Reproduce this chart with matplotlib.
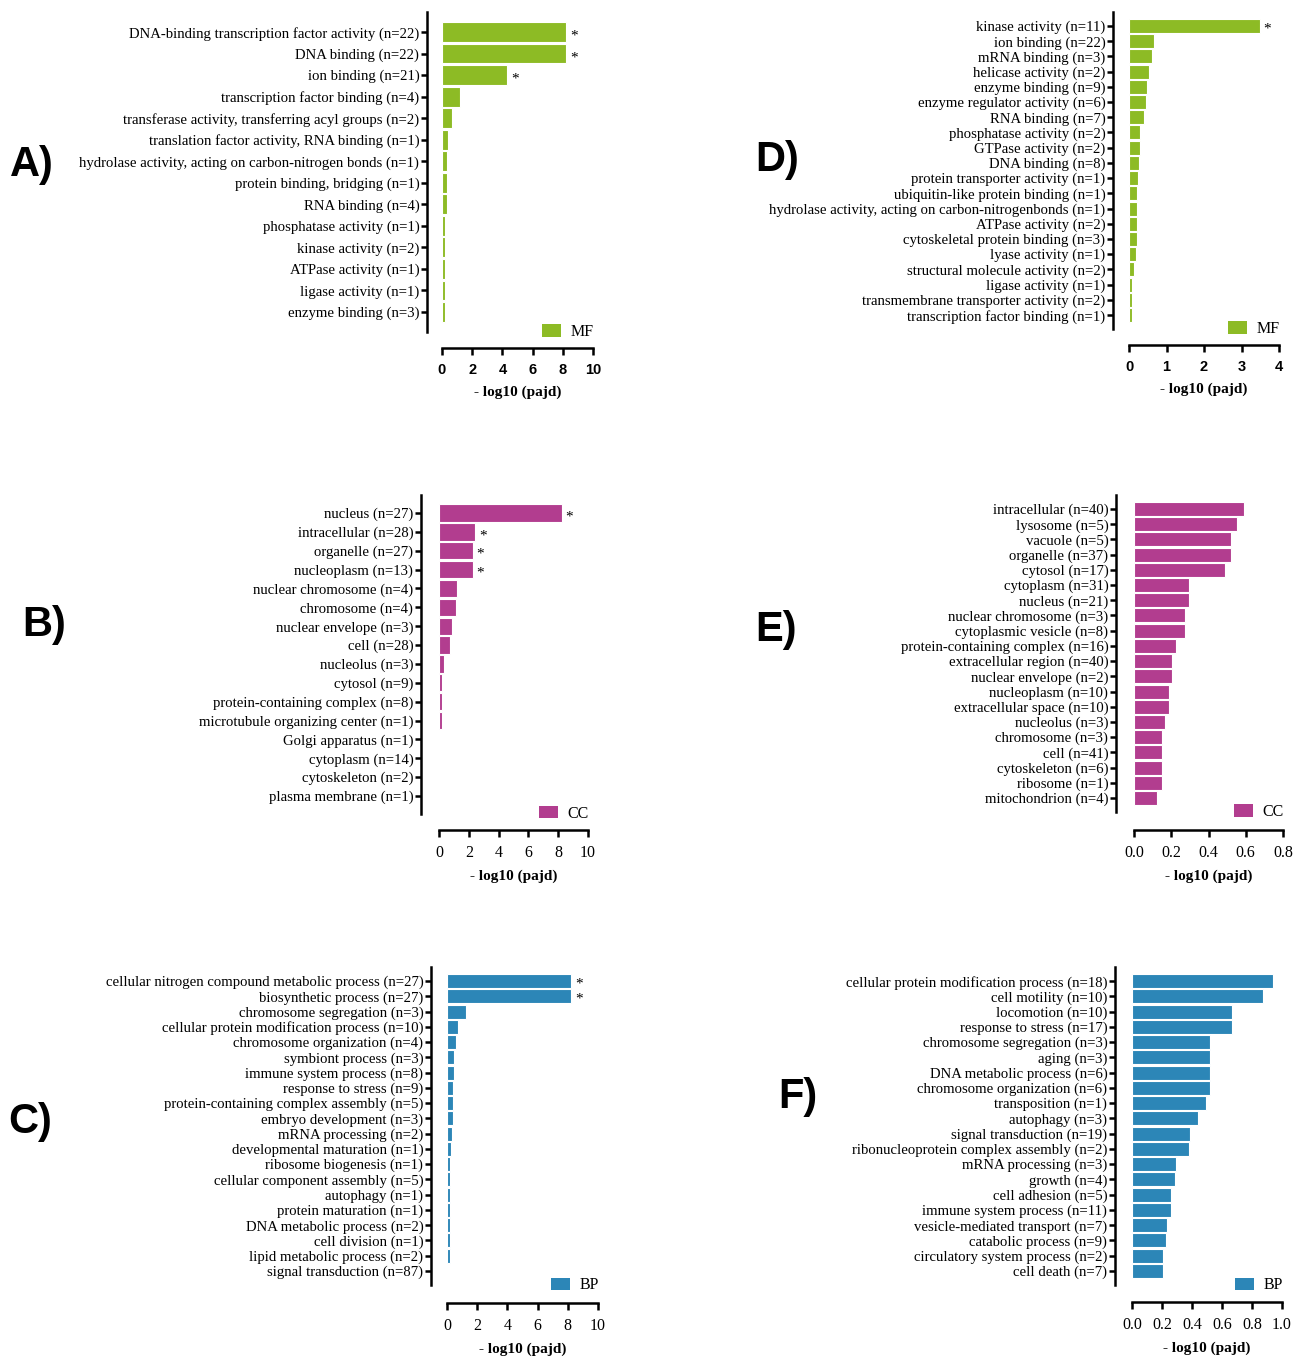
"""Six-panel GO enrichment bar charts (MF, CC, BP) recreated with matplotlib."""

import matplotlib

matplotlib.use("Agg")

import matplotlib.pyplot as plt
from matplotlib.patches import Patch


# ---- data -----------------------------------------------------------------
a_terms = [
    "DNA-binding transcription factor activity (n=22)",
    "DNA binding (n=22)",
    "ion binding (n=21)",
    "transcription factor binding (n=4)",
    "transferase activity, transferring acyl groups (n=2)",
    "translation factor activity, RNA binding (n=1)",
    "hydrolase activity, acting on carbon-nitrogen bonds (n=1)",
    "protein binding, bridging (n=1)",
    "RNA binding (n=4)",
    "phosphatase activity (n=1)",
    "kinase activity (n=2)",
    "ATPase activity (n=1)",
    "ligase activity (n=1)",
    "enzyme binding (n=3)",
]
a_values = [8.24, 8.24, 4.32, 1.19, 0.64, 0.37, 0.31, 0.31, 0.31, 0.18, 0.18, 0.18, 0.18, 0.18]
a_sig = [True, True, True] + [False] * 11

d_terms = [
    "kinase activity (n=11)",
    "ion binding (n=22)",
    "mRNA binding (n=3)",
    "helicase activity (n=2)",
    "enzyme binding (n=9)",
    "enzyme regulator activity (n=6)",
    "RNA binding (n=7)",
    "phosphatase activity (n=2)",
    "GTPase activity (n=2)",
    "DNA binding (n=8)",
    "protein transporter activity (n=1)",
    "ubiquitin-like protein binding (n=1)",
    "hydrolase activity, acting on carbon-nitrogenbonds (n=1)",
    "ATPase activity (n=2)",
    "cytoskeletal protein binding (n=3)",
    "lyase activity (n=1)",
    "structural molecule activity (n=2)",
    "ligase activity (n=1)",
    "transmembrane transporter activity (n=2)",
    "transcription factor binding (n=1)",
]
d_values = [3.49, 0.66, 0.60, 0.52, 0.49, 0.44, 0.39, 0.29, 0.29, 0.26,
            0.25, 0.22, 0.22, 0.22, 0.21, 0.19, 0.12, 0.09, 0.08, 0.07]
d_sig = [True] + [False] * 19

b_terms = [
    "nucleus (n=27)",
    "intracellular (n=28)",
    "organelle (n=27)",
    "nucleoplasm (n=13)",
    "nuclear chromosome (n=4)",
    "chromosome (n=4)",
    "nuclear envelope (n=3)",
    "cell (n=28)",
    "nucleolus (n=3)",
    "cytosol (n=9)",
    "protein-containing complex (n=8)",
    "microtubule organizing center (n=1)",
    "Golgi apparatus (n=1)",
    "cytoplasm (n=14)",
    "cytoskeleton (n=2)",
    "plasma membrane (n=1)",
]
b_values = [8.24, 2.43, 2.26, 2.26, 1.18, 1.11, 0.87, 0.71, 0.36, 0.18, 0.18, 0.18,
            0.0, 0.0, 0.0, 0.0]
b_sig = [True, True, True, True] + [False] * 12

e_terms = [
    "intracellular (n=40)",
    "lysosome (n=5)",
    "vacuole (n=5)",
    "organelle (n=37)",
    "cytosol (n=17)",
    "cytoplasm (n=31)",
    "nucleus (n=21)",
    "nuclear chromosome (n=3)",
    "cytoplasmic vesicle (n=8)",
    "protein-containing complex (n=16)",
    "extracellular region (n=40)",
    "nuclear envelope (n=2)",
    "nucleoplasm (n=10)",
    "extracellular space (n=10)",
    "nucleolus (n=3)",
    "chromosome (n=3)",
    "cell (n=41)",
    "cytoskeleton (n=6)",
    "ribosome (n=1)",
    "mitochondrion (n=4)",
]
e_values = [0.59, 0.555, 0.52, 0.52, 0.49, 0.297, 0.297, 0.276, 0.276, 0.223,
            0.203, 0.203, 0.189, 0.189, 0.169, 0.151, 0.151, 0.151, 0.151, 0.125]
e_sig = [False] * 20

c_terms = [
    "cellular nitrogen compound metabolic process (n=27)",
    "biosynthetic process (n=27)",
    "chromosome segregation (n=3)",
    "cellular protein modification process (n=10)",
    "chromosome organization (n=4)",
    "symbiont process (n=3)",
    "immune system process (n=8)",
    "response to stress (n=9)",
    "protein-containing complex assembly (n=5)",
    "embryo development (n=3)",
    "mRNA processing (n=2)",
    "developmental maturation (n=1)",
    "ribosome biogenesis (n=1)",
    "cellular component assembly (n=5)",
    "autophagy (n=1)",
    "protein maturation (n=1)",
    "DNA metabolic process (n=2)",
    "cell division (n=1)",
    "lipid metabolic process (n=2)",
    "signal transduction (n=87)",
]
c_values = [8.23, 8.23, 1.28, 0.71, 0.58, 0.46, 0.44, 0.40, 0.40, 0.40,
            0.35, 0.24, 0.20, 0.20, 0.20, 0.20, 0.20, 0.20, 0.18, 0.0]
c_sig = [True, True] + [False] * 18

f_terms = [
    "cellular protein modification process (n=18)",
    "cell motility (n=10)",
    "locomotion (n=10)",
    "response to stress (n=17)",
    "chromosome segregation (n=3)",
    "aging (n=3)",
    "DNA metabolic process (n=6)",
    "chromosome organization (n=6)",
    "transposition (n=1)",
    "autophagy (n=3)",
    "signal transduction (n=19)",
    "ribonucleoprotein complex assembly (n=2)",
    "mRNA processing (n=3)",
    "growth (n=4)",
    "cell adhesion (n=5)",
    "immune system process (n=11)",
    "vesicle-mediated transport (n=7)",
    "catabolic process (n=9)",
    "circulatory system process (n=2)",
    "cell death (n=7)",
]
f_values = [0.943, 0.876, 0.665, 0.665, 0.52, 0.52, 0.52, 0.52, 0.493, 0.44,
            0.386, 0.378, 0.296, 0.288, 0.263, 0.263, 0.236, 0.227, 0.205, 0.205]
f_sig = [False] * 20

MF_COLOR = "#8dbb25"
CC_COLOR = "#b23d8f"
BP_COLOR = "#2c86b7"

W, H = 1297, 1357
SERIF = ["Liberation Serif", "DejaVu Serif"]
SANS = ["Liberation Sans", "DejaVu Sans"]

plt.rcParams["font.family"] = SERIF

# panel layout in pixels: bar base x, x at xmax, first/last bar centre y,
# left spine x, x-axis y
panels = [
    dict(letter="A)", lxy=(10, 165), terms=a_terms, values=a_values, sig=a_sig,
         color=MF_COLOR, name="MF", xmax=10, step=2, sans_ticks=True,
         x0=442, x1=593, yfirst=32, ylast=312, spine_x=427, axis_y=348),
    dict(letter="D)", lxy=(755, 160), terms=d_terms, values=d_values, sig=d_sig,
         color=MF_COLOR, name="MF", xmax=4, step=1, sans_ticks=True,
         x0=1129, x1=1279, yfirst=26, ylast=315, spine_x=1113, axis_y=345),
    dict(letter="B)", lxy=(22, 625), terms=b_terms, values=b_values, sig=b_sig,
         color=CC_COLOR, name="CC", xmax=10, step=2, sans_ticks=False,
         x0=439, x1=588, yfirst=513, ylast=796, spine_x=421, axis_y=830),
    dict(letter="E)", lxy=(755, 630), terms=e_terms, values=e_values, sig=e_sig,
         color=CC_COLOR, name="CC", xmax=0.8, step=0.2, sans_ticks=False,
         x0=1134, x1=1283, yfirst=509, ylast=798, spine_x=1116, axis_y=830),
    dict(letter="C)", lxy=(8, 1122), terms=c_terms, values=c_values, sig=c_sig,
         color=BP_COLOR, name="BP", xmax=10, step=2, sans_ticks=False,
         x0=447, x1=598, yfirst=981, ylast=1271, spine_x=431, axis_y=1303),
    dict(letter="F)", lxy=(778, 1097), terms=f_terms, values=f_values, sig=f_sig,
         color=BP_COLOR, name="BP", xmax=1.0, step=0.2, sans_ticks=False,
         x0=1132, x1=1282, yfirst=981, ylast=1271, spine_x=1115, axis_y=1302),
]

PAD = 0.93  # bar steps between outermost bar and the end of the y spine


def draw_panel(fig, p):
    n = len(p["terms"])
    step_px = (p["ylast"] - p["yfirst"]) / (n - 1)
    top = p["yfirst"] - PAD * step_px
    bottom = p["ylast"] + PAD * step_px
    ax = fig.add_axes([p["x0"] / W, 1 - bottom / H,
                       (p["x1"] - p["x0"]) / W, (bottom - top) / H])

    ypos = list(range(n))
    ax.barh(ypos, p["values"], height=0.92, color=p["color"],
            edgecolor="white", linewidth=0.8)
    for i, (v, s) in enumerate(zip(p["values"], p["sig"])):
        if s:
            ax.text(v + p["xmax"] * 0.025, i + 0.2, "*", ha="left", va="center",
                    fontsize=11)

    for side in ("top", "right"):
        ax.spines[side].set_visible(False)
    ax.spines["left"].set_position(("outward", (p["x0"] - p["spine_x"]) * 72 / 100))
    ax.spines["bottom"].set_position(("outward", (p["axis_y"] - bottom) * 72 / 100))
    ax.spines["left"].set_linewidth(1.8)
    ax.spines["bottom"].set_linewidth(1.8)
    ax.tick_params(axis="y", length=4, width=1.8, pad=1.5)
    ax.tick_params(axis="x", length=5, width=1.8, pad=6)

    ax.set_xlim(0, p["xmax"])
    ax.set_ylim(n - 1 + PAD, -PAD)
    ax.set_yticks(ypos)
    ax.set_yticklabels(p["terms"], fontsize=10.6)
    ticks = [round(k * p["step"], 1) for k in range(int(round(p["xmax"] / p["step"])) + 1)]
    ax.set_xticks(ticks)
    if p["xmax"] >= 2:
        labels = [str(int(t)) for t in ticks]
    else:
        labels = [f"{t:.1f}" for t in ticks]
    ax.set_xticklabels(labels)
    for lab in ax.get_xticklabels():
        if p["sans_ticks"]:
            lab.set_fontfamily(SANS)
            lab.set_fontweight("bold")
            lab.set_fontsize(10.5)
        else:
            lab.set_fontsize(11.5)

    ax.set_xlabel("- log10 (pajd)", fontweight="bold", fontsize=11, labelpad=6)

    handle = Patch(facecolor=p["color"], edgecolor="none")
    ax.legend([handle], [p["name"]], loc="center right", bbox_to_anchor=(1.05, 0.0),
              frameon=False, handlelength=1.2, handleheight=0.8,
              handletextpad=0.6, borderaxespad=0,
              prop={"size": 11.5})

    fig.text(p["lxy"][0] / W, 1 - p["lxy"][1] / H, p["letter"], family=SANS,
             fontweight="bold", fontsize=30, ha="left", va="center")


def main():
    fig = plt.figure(figsize=(W / 100, H / 100), dpi=100)
    for p in panels:
        draw_panel(fig, p)
    fig.savefig("out.png", dpi=100, facecolor="white")
    plt.close(fig)


if __name__ == "__main__":
    main()
